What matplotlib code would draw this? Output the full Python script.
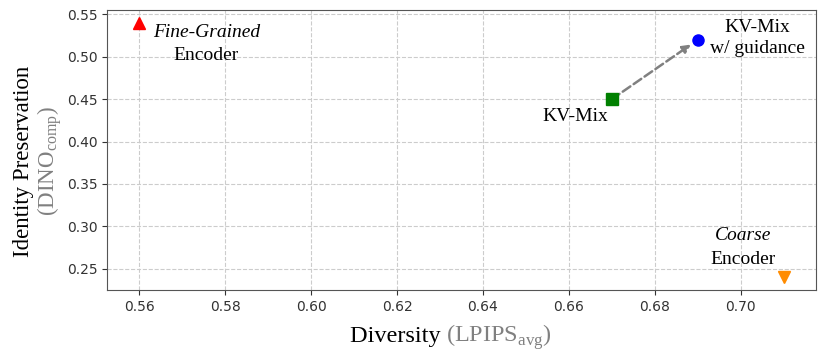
import matplotlib.pyplot as plt
from matplotlib.offsetbox import TextArea, HPacker, AnchoredOffsetbox

# Data points (diversity, identity)
methods = ['Fine-Grained Encoder', 'KV-Mix', 'KV-Mix w/ guidance', 'Coarse Encoder']
diversity = [0.56, 0.67, 0.69, 0.71]
identity = [0.54, 0.45, 0.52, 0.24]
markers = ['^', 's', 'o', 'v']
colors = ['red', 'green', 'blue', 'darkorange']

plt.rcParams['mathtext.fontset'] = 'custom'
plt.rcParams['mathtext.rm'] = 'Liberation Serif'
serif = 'Liberation Serif'

fig = plt.figure(figsize=(8.3, 3.62), dpi=100)
ax = fig.add_axes([0.129, 0.199, 0.854, 0.773])

for x, y, m, c in zip(diversity, identity, markers, colors):
    ax.plot(x, y, marker=m, color=c, markersize=8, linestyle='none', zorder=3)

# arrow from KV-Mix to KV-Mix w/ guidance
ax.annotate('', xy=(diversity[2], identity[2]), xytext=(diversity[1], identity[1]),
            arrowprops=dict(arrowstyle='-|>', linestyle='--', color='gray', lw=1.8,
                            shrinkA=0, shrinkB=6, mutation_scale=12), zorder=2)

fs = 14
ax.text(0.5756, 0.529, 'Fine-Grained', fontsize=fs, family=serif, style='italic', ha='center', va='center')
ax.text(0.5756, 0.501, 'Encoder', fontsize=fs, family=serif, ha='center', va='center')
ax.text(0.6614, 0.430, 'KV-Mix', fontsize=fs, family=serif, ha='center', va='center')
ax.text(0.7038, 0.522, 'KV-Mix\nw/ guidance', fontsize=fs, family=serif, ha='center', va='center',
        linespacing=1.35)
ax.text(0.7005, 0.289, 'Coarse', fontsize=fs, family=serif, style='italic', ha='center', va='center')
ax.text(0.7005, 0.261, 'Encoder', fontsize=fs, family=serif, ha='center', va='center')

ax.grid(True, linestyle='--', color='#cccccc', linewidth=0.8)
ax.set_axisbelow(True)
ax.tick_params(labelsize=10, colors='#333333')
for s in ax.spines.values():
    s.set_color('#555555')

# x label: black + gray parts
xl = HPacker(children=[TextArea('Diversity ', textprops=dict(fontsize=17.5, family=serif, color='black')),
                       TextArea(r'(LPIPS$_{\mathrm{avg}}$)', textprops=dict(fontsize=17.5, family=serif, color='gray'))],
             align='baseline', pad=0, sep=0)
ax.add_artist(AnchoredOffsetbox(loc='upper center', child=xl, frameon=False,
                                bbox_to_anchor=(0.485, -0.115), bbox_transform=ax.transAxes, pad=0, borderpad=0))

# y label: two lines, rotated
fig.text(0.028, 0.555, 'Identity Preservation', rotation=90, fontsize=16.5, family=serif,
         color='black', ha='center', va='center')
fig.text(0.061, 0.555, r'(DINO$_{\mathrm{comp}}$)', rotation=90, fontsize=16.5, family=serif,
         color='gray', ha='center', va='center')

fig.savefig('out.png', dpi=100)
